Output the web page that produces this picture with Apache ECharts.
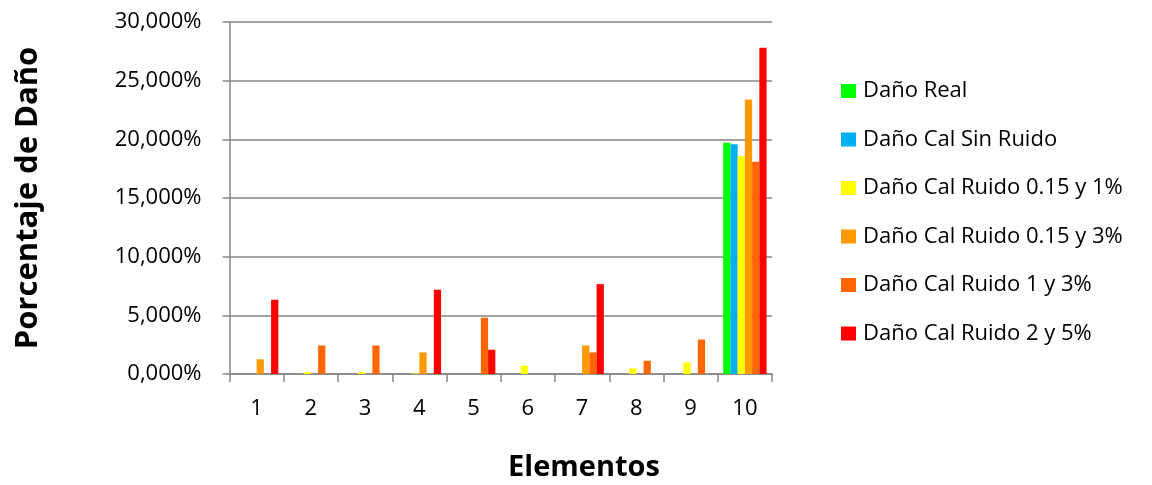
<!DOCTYPE html>
<html>
<head>
<meta charset="utf-8">
<script src="https://cdn.jsdelivr.net/npm/echarts@6/dist/echarts.min.js"></script>
<style>html,body{margin:0;padding:0;background:#fff;}#c{width:1152px;height:485px;}</style>
</head>
<body>
<div id="c"></div>
<script>
const categories = ['1','2','3','4','5','6','7','8','9','10'];
const seriesNames = ['Daño Real','Daño Cal Sin Ruido','Daño Cal Ruido 0.15 y 1%','Daño Cal Ruido 0.15 y 3%','Daño Cal Ruido 1 y 3%','Daño Cal Ruido 2 y 5%'];
const danoReal    = [0, 0, 0, 0, 0, 0, 0, 0, 0, 19.70];
const calSinRuido = [0, 0, 0, 0, 0, 0, 0, 0, 0, 19.58];
const ruido015_1  = [0, 0.15, 0.15, 0.05, 0, 0.71, 0, 0.48, 0.99, 18.55];
const ruido015_3  = [1.25, 0, 0, 1.84, 0, 0, 2.43, 0, 0, 23.40];
const ruido1_3    = [0, 2.43, 2.43, 0, 4.80, 0, 1.84, 1.13, 2.94, 18.10];
const ruido2_5    = [6.33, 0, 0, 7.18, 2.07, 0, 7.66, 0, 0, 27.80];
const colors = ['#00FF00','#00B0F0','#FFFF00','#FF9900','#FF6600','#FF0000'];

const allData = [danoReal, calSinRuido, ruido015_1, ruido015_3, ruido1_3, ruido2_5];
const FONT = 'Open Sans';

const chart = echarts.init(document.getElementById('c'));
chart.setOption({
  animation: false,
  color: colors,
  textStyle: { fontFamily: FONT },
  grid: { left: 229.5, right: 380, top: 22, bottom: 111, containLabel: false },
  legend: {
    orient: 'vertical',
    left: 836, top: 75,
    itemWidth: 15, itemHeight: 14, itemGap: 26.5,
    icon: 'rect',
    textStyle: { fontFamily: FONT, fontSize: 22, color: '#000', padding: [0,0,0,2] },
    data: seriesNames
  },
  xAxis: {
    type: 'category',
    data: categories,
    axisLine: { lineStyle: { color: '#868686', width: 1.5 } },
    axisTick: { show: true, length: 8, lineStyle: { color: '#868686', width: 1.5 } },
    axisLabel: { color: '#000', fontSize: 22, margin: 24, fontFamily: FONT }
  },
  yAxis: {
    type: 'value',
    min: 0, max: 30, interval: 5,
    name: 'Porcentaje de Daño',
    nameLocation: 'middle',
    nameGap: 186,
    nameTextStyle: { fontSize: 31, fontWeight: 'bold', color: '#000', fontFamily: FONT },
    axisLine: { show: true, lineStyle: { color: '#868686', width: 1.5 } },
    axisTick: { show: true, length: 7, lineStyle: { color: '#868686', width: 1.5 } },
    splitLine: { lineStyle: { color: '#868686', width: 1.5 } },
    axisLabel: {
      color: '#000', fontSize: 22, margin: 28, fontFamily: FONT,
      formatter: v => v.toFixed(3).replace('.', ',') + '%'
    }
  },
  graphic: [{
    type: 'text', x: 584, y: 468,
    style: { text: 'Elementos', fontSize: 29, fontWeight: 'bold', fill: '#000', fontFamily: FONT, align: 'center', verticalAlign: 'middle' }
  }],
  series: seriesNames.map((n, i) => ({
    name: n, type: 'bar', data: allData[i],
    barGap: '0%', barCategoryGap: '20%'
  }))
});
</script>
</body>
</html>
